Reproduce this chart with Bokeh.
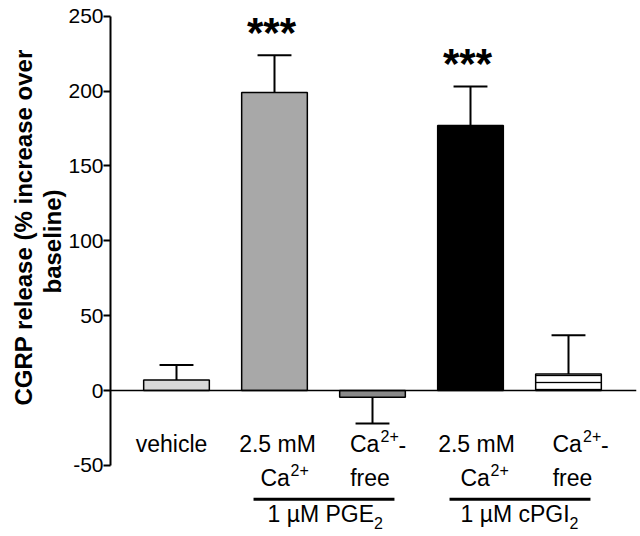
from bokeh.plotting import figure
from bokeh.models import ColumnDataSource, FixedTicker, Span, Range1d, Title
from bokeh.core.properties import value
from bokeh.embed import file_html
from bokeh.resources import INLINE

# ---- data ----
conditions = ["vehicle", "PGE2 2.5 mM Ca", "PGE2 Ca-free", "cPGI2 2.5 mM Ca", "cPGI2 Ca-free"]
positions = [1, 2, 3, 4, 5]
means = [7, 199, -4.5, 177, 11]
sems = [10, 25, 17.5, 26, 26]
significance = ["", "***", "", "***", ""]
y_ticks = [-50, 0, 50, 100, 150, 200, 250]
y_title = ["CGRP release (% increase over", "baseline)"]
group_names = [("1 µM PGE", "2"), ("1 µM cPGI", "2")]
group_members = [(2, 3), (4, 5)]

# ---- styles ----
bar_fill = ["#d9d9d9", "#a8a8a8", "#8a8a8a", "#000000", "#ffffff"]
bar_hatch = [" ", " ", " ", " ", "-"]
FONT = "Liberation Sans"
MAIN = "23px"
SMALL = "16px"

# label rows (baselines in data units) and pieces: (text, bar, x_offset_px, align, size, y_offset_px)
ROW1, ROW2, GROUP_LINE, GROUP_ROW = -35.8, -58.1, -72.7, -82.8
pieces = [
    ("vehicle", 1, -5, "center", MAIN, 0, ROW1),
    ("2.5 mM", 2, 3, "center", MAIN, 0, ROW1),
    ("Ca", 2, -14, "left", MAIN, 0, ROW2),
    ("2+", 2, 16, "left", SMALL, -8, ROW2),
    ("Ca", 3, -22.5, "left", MAIN, 0, ROW1),
    ("2+", 3, 8, "left", SMALL, -8, ROW1),
    ("-", 3, 26, "left", MAIN, 0, ROW1),
    ("free", 3, -2.5, "center", MAIN, 0, ROW2),
    ("2.5 mM", 4, 6, "center", MAIN, 0, ROW1),
    ("Ca", 4, -10, "left", MAIN, 0, ROW2),
    ("2+", 4, 20, "left", SMALL, -8, ROW2),
    ("Ca", 5, -16, "left", MAIN, 0, ROW1),
    ("2+", 5, 14.5, "left", SMALL, -8, ROW1),
    ("-", 5, 32.5, "left", MAIN, 0, ROW1),
    ("free", 5, 4, "center", MAIN, 0, ROW2),
]

p = figure(width=640, height=536,
           x_range=Range1d(0.32653, 5.6939), y_range=Range1d(-97.5, 260.5),
           output_backend="svg", toolbar_location=None, x_axis_location=None,
           min_border_left=110, min_border_right=4, min_border_top=0, min_border_bottom=0)
p.outline_line_color = None
p.grid.visible = False

src = ColumnDataSource(dict(x=positions, top=means, fill=bar_fill, hatch=bar_hatch))
p.vbar(x="x", top="top", bottom=0, width=0.67, source=src,
       fill_color="fill", line_color="black", line_width=1.5,
       hatch_pattern="hatch", hatch_color="black", hatch_scale=7, hatch_weight=1.3)

# error bars (one-sided, away from zero)
ends = [m + (s if m >= 0 else -s) for m, s in zip(means, sems)]
cap = 0.173
err = ColumnDataSource(dict(x=positions, y0=means, y1=ends,
                            xl=[x - cap for x in positions], xr=[x + cap for x in positions]))
p.segment(x0="x", y0="y0", x1="x", y1="y1", source=err, line_color="black", line_width=2)
p.segment(x0="xl", y0="y1", x1="xr", y1="y1", source=err, line_color="black", line_width=2)

# zero line
p.add_layout(Span(location=0, dimension="width", line_color="black", line_width=1.5))

# significance stars
star_src = ColumnDataSource(dict(x=positions, y=[e + 15.4 for e in ends], t=significance))
p.text(x="x", y="y", text="t", source=star_src, text_align="center", text_baseline="alphabetic",
       x_offset=-3, text_font=value(FONT), text_font_style="bold", text_font_size="42px",
       text_color="black")

# y axis
ya = p.yaxis[0]
ya.ticker = FixedTicker(ticks=y_ticks)
ya.bounds = (-50, 250)
ya.major_tick_out = 7
ya.major_tick_in = 0
ya.minor_tick_out = 0
ya.minor_tick_in = 0
ya.axis_line_width = 2
ya.major_tick_line_width = 2
ya.major_label_text_font = FONT
ya.major_label_text_font_size = "21px"
ya.major_label_text_color = "black"
ya.major_label_standoff = 0
ya.major_label_overrides = {t: str(t) for t in y_ticks}

# y-axis title, two lines (inner line first)
p.add_layout(Title(text=y_title[1], align="left", offset=243, standoff=0,
                   text_font=FONT, text_font_style="bold", text_font_size="24px",
                   text_color="black"), "left")
p.add_layout(Title(text=y_title[0], align="left", offset=131, standoff=0,
                   text_font=FONT, text_font_style="bold", text_font_size="24px",
                   text_color="black"), "left")

# category labels
for txt, bar, xo, align, size, yo, row in pieces:
    p.text(x=[bar], y=[row], text=[txt], x_offset=xo, y_offset=yo, text_align=align,
           text_baseline="alphabetic", text_font=value(FONT), text_font_size=size,
           text_color="black")

# group lines and labels
gx0 = [a - 0.214 for a, b in group_members]
gx1 = [b + 0.224 for a, b in group_members]
p.segment(x0=gx0, y0=[GROUP_LINE] * 2, x1=gx1, y1=[GROUP_LINE] * 2, line_color="black", line_width=3)
gmid = [(a + b) / 2 for a, b in group_members]
p.text(x=gmid, y=[GROUP_ROW] * 2, text=[g[0] for g in group_names], x_offset=[-56, -59],
       text_align="left", text_baseline="alphabetic",
       text_font=value(FONT), text_font_size=MAIN, text_color="black")
p.text(x=gmid, y=[GROUP_ROW] * 2, text=[g[1] for g in group_names], x_offset=[50.5, 50],
       y_offset=9, text_align="left", text_baseline="alphabetic",
       text_font=value(FONT), text_font_size=SMALL, text_color="black")

open("out.html", "w").write(file_html(p, INLINE))
